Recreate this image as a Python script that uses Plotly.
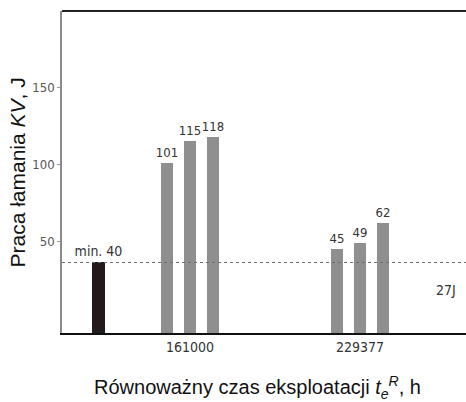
import plotly.graph_objects as go

# ---- data ----
categories = ["161000", "229377"]
group_values = [[101, 115, 118], [45, 49, 62]]
min_label = "min. 40"
min_bar_height = 36          # drawn height of the black reference bar
threshold_value = 36         # drawn level of the 27 J line
threshold_label = "27J"
y_ticks = [50, 100, 150]
x_title = "Równoważny czas eksploatacji <i>t<sub>e</sub><sup>R</sup></i>, h"
y_title = "Praca łamania <i>KV</i>, J"

# ---- layout helpers (positions in axis units) ----
group_centers = [2.0, 4.0]
bar_offsets = [-0.276, 0.0, 0.276]
min_bar_x = 0.918
y_min, y_max = -10, 200
x_min, x_max = 0.494, 5.247

narrow = "Liberation Sans Narrow, DejaVu Sans Condensed, Arial Narrow, Liberation Sans, Arial, sans-serif"
sans = "Liberation Sans, Arial, sans-serif"

fig = go.Figure()

# black minimum bar
fig.add_trace(go.Bar(
    x=[min_bar_x], y=[min_bar_height - y_min], base=[y_min],
    width=0.153, marker=dict(color="#231a1b", line=dict(width=0)),
    text=[min_label], textposition="outside", constraintext="none",
    textfont=dict(family=narrow, size=14, color="#333333"),
    cliponaxis=False, showlegend=False, hoverinfo="skip",
))

# gray measurement bars
xs, ys, txt = [], [], []
for c, vals in zip(group_centers, group_values):
    for off, v in zip(bar_offsets, vals):
        xs.append(c + off)
        ys.append(v - y_min)
        txt.append(str(v))
fig.add_trace(go.Bar(
    x=xs, y=ys, base=[y_min] * len(xs), width=0.141,
    marker=dict(color="#8f8f8f", line=dict(width=0)),
    text=txt, textposition="outside", constraintext="none",
    textfont=dict(family=narrow, size=13, color="#333333"),
    cliponaxis=False, showlegend=False, hoverinfo="skip",
))

# threshold line
fig.add_shape(type="line", xref="paper", x0=0, x1=1, yref="y",
              y0=threshold_value, y1=threshold_value,
              line=dict(color="#6e6e6e", width=1, dash="dot"))
fig.add_annotation(x=1, xref="paper", xanchor="right", xshift=-8,
                   y=threshold_value, yref="y", yshift=-28,
                   text=threshold_label, showarrow=False,
                   font=dict(family=narrow, size=14, color="#333333"))
# top frame line
fig.add_shape(type="line", xref="paper", x0=0, x1=1, yref="paper",
              y0=1, y1=1, line=dict(color="#222222", width=2))

# axis titles
fig.add_annotation(x=0.483, y=-0.168, xref="paper", yref="paper",
                   xanchor="center", yanchor="middle", showarrow=False,
                   text=x_title, font=dict(family=sans, size=20, color="#111111"))
fig.add_annotation(x=-0.110, y=0.497, xref="paper", yref="paper",
                   xanchor="center", yanchor="middle", showarrow=False,
                   textangle=-90,
                   text=y_title, font=dict(family=sans, size=21, color="#111111"))

fig.update_layout(
    width=466, height=402,
    margin=dict(l=62, r=0, t=11, b=69),
    paper_bgcolor="white", plot_bgcolor="white",
    bargap=0,
    xaxis=dict(
        range=[x_min, x_max], tickvals=group_centers, ticktext=categories,
        showgrid=False, zeroline=False, showline=True, linecolor="#111111",
        linewidth=2, ticks="", automargin=False,
        tickfont=dict(family=narrow, size=14, color="#333333"),
    ),
    yaxis=dict(
        range=[y_min, y_max], tickvals=y_ticks,
        showgrid=False, zeroline=False, showline=True, linecolor="#8a8a8a",
        linewidth=1.5, ticks="outside", ticklen=3, tickcolor="#9a9a9a",
        automargin=False,
        tickfont=dict(family=narrow, size=13, color="#555555"),
    ),
)

fig.write_html("out.html", config={"displayModeBar": False},
               post_script="document.body.style.margin='0';document.body.style.overflow='hidden';")
